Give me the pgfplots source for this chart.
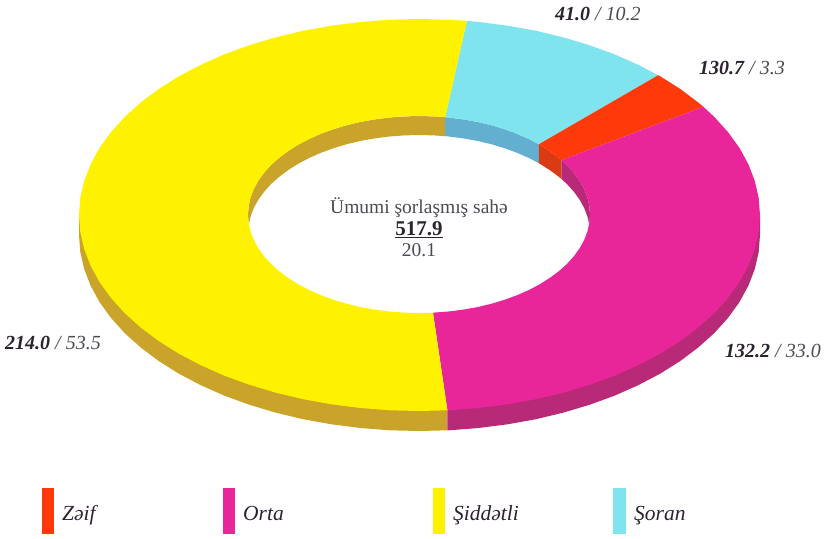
\documentclass[border=0pt]{standalone}
\usepackage{pgfplots}
\usepackage{fontspec}
\setmainfont{Liberation Serif}
\pgfplotsset{compat=1.18}
\definecolor{sYellow}{HTML}{FFF200}
\definecolor{sCyan}{HTML}{80E4EE}
\definecolor{sRed}{HTML}{FF3A0A}
\definecolor{sMag}{HTML}{E8269A}
\definecolor{wYellow}{HTML}{C9A32A}
\definecolor{wCyan}{HTML}{62AFCF}
\definecolor{wRed}{HTML}{DB3B12}
\definecolor{wMag}{HTML}{B82A78}
\definecolor{txt}{HTML}{2B2330}
\definecolor{txtg}{HTML}{4F4A52}
\newcommand{\lab}[2]{{\fontsize{20}{22}\selectfont\itshape\textbf{\textcolor{txt}{#1}}~\textcolor{txtg}{/ #2}}}
\newcommand{\leg}[1]{{\fontsize{21.5}{24}\selectfont\itshape\textcolor{txt}{#1}}}

\begin{document}
\begin{tikzpicture}
\begin{axis}[
    scale only axis,
    width=827pt, height=538pt,
    xmin=0, xmax=827,
    ymin=0, ymax=538,
    y dir=reverse,
    hide axis,
    clip=false,
]
\path (axis cs:0,0) rectangle (axis cs:827,538);

% outer side walls
\addplot[fill=wYellow, draw=none] coordinates {
(79,215)(79,235)(80.3,252.1)(84.2,269)(90.6,285.7)(99.5,302)(110.9,317.8)(124.6,333)(140.6,347.4)(158.7,361)(178.7,373.6)(200.6,385.1)(224.2,395.6)(249.2,404.7)(275.6,412.6)(303,419.2)(331.4,424.3)(360.4,428)(389.8,430.3)(419.5,431)(447.4,430.3)(447.4,410.3)
} -- cycle;
\addplot[fill=wMag, draw=none] coordinates {
(447.4,410.3)(447.4,430.3)(449.2,430.3)(478.6,428)(507.6,424.3)(536,419.2)(563.4,412.6)(589.8,404.7)(614.8,395.6)(638.4,385.1)(660.3,373.6)(680.3,361)(698.4,347.4)(714.4,333)(728.1,317.8)(739.5,302)(748.4,285.7)(754.8,269)(758.7,252.1)(760,235)(760,215)
} -- cycle;

% inner walls of the hole
\addplot[fill=wYellow, draw=none] coordinates {
(248.7,224.9)(248,214.5)(248.7,205.9)(250.6,197.4)(253.8,189)(258.3,180.8)(264,172.9)(270.9,165.2)(278.9,158)(288,151.2)(298.1,144.8)(309.1,139)(320.9,133.8)(333.5,129.2)(346.7,125.2)(360.5,121.9)(374.7,119.4)(389.3,117.5)(404.1,116.4)(419,116)(433.9,116.4)(445.2,117.2)(445.2,136.2)(433.9,135.4)(419,135)(404.1,135.4)(389.3,136.5)(374.7,138.4)(360.5,140.9)(346.7,144.2)(333.5,148.2)(320.9,152.8)(309.1,158)(298.1,163.8)(288,170.2)(278.9,177)(270.9,184.2)(264,191.9)(258.3,199.8)(253.8,208)(250.6,216.4)
} -- cycle;
\addplot[fill=wCyan, draw=none] coordinates {
(445.2,117.2)(448.7,117.5)(463.3,119.4)(477.5,121.9)(491.3,125.2)(504.5,129.2)(517.1,133.8)(528.9,139)(538.9,144.2)(538.9,163.2)(528.9,158)(517.1,152.8)(504.5,148.2)(491.3,144.2)(477.5,140.9)(463.3,138.4)(448.7,136.5)(445.2,136.2)
} -- cycle;
\addplot[fill=wRed, draw=none] coordinates {
(538.9,144.2)(539.9,144.8)(550,151.2)(559.1,158)(561.6,160.1)(561.6,179.1)(559.1,177)(550,170.2)(539.9,163.8)(538.9,163.2)
} -- cycle;
\addplot[fill=wMag, draw=none] coordinates {
(561.6,160.1)(567.1,165.2)(574,172.9)(579.7,180.8)(584.2,189)(587.4,197.4)(589.3,205.9)(590,214.5)(589.3,224.9)(587.4,216.4)(584.2,208)(579.7,199.8)(574,191.9)(567.1,184.2)(561.6,179.1)
} -- cycle;

% top faces: Soran 10.2, Zeif 3.3, Orta 33.0, Siddetli 53.5
\addplot[fill=sCyan, draw=none] coordinates {
(466.9,20.9)(478.6,22)(507.6,25.7)(536,30.8)(563.4,37.4)(589.8,45.3)(614.8,54.4)(638.4,64.9)(658.2,75.2)(538.9,144.2)(528.9,139)(517.1,133.8)(504.5,129.2)(491.3,125.2)(477.5,121.9)(463.3,119.4)(448.7,117.5)(445.2,117.2)
} -- cycle;
\addplot[fill=sRed, draw=none] coordinates {
(658.2,75.2)(660.3,76.4)(680.3,89)(698.4,102.6)(703.4,106.8)(561.6,160.1)(559.1,158)(550,151.2)(539.9,144.8)(538.9,144.2)
} -- cycle;
\addplot[fill=sMag, draw=none] coordinates {
(703.4,106.8)(714.4,117)(728.1,132.2)(739.5,148)(748.4,164.3)(754.8,181)(758.7,197.9)(760,215)(758.7,232.1)(754.8,249)(748.4,265.7)(739.5,282)(728.1,297.8)(714.4,313)(698.4,327.4)(680.3,341)(660.3,353.6)(638.4,365.1)(614.8,375.6)(589.8,384.7)(563.4,392.6)(536,399.2)(507.6,404.3)(478.6,408)(449.2,410.3)(447.4,410.3)(433,312.7)(433.9,312.6)(448.7,311.5)(463.3,309.6)(477.5,307.1)(491.3,303.8)(504.5,299.8)(517.1,295.2)(528.9,290)(539.9,284.2)(550,277.8)(559.1,271)(567.1,263.8)(574,256.1)(579.7,248.2)(584.2,240)(587.4,231.6)(589.3,223.1)(590,214.5)(589.3,205.9)(587.4,197.4)(584.2,189)(579.7,180.8)(574,172.9)(567.1,165.2)(561.6,160.1)
} -- cycle;
\addplot[fill=sYellow, draw=none] coordinates {
(466.9,20.9)(449.2,19.7)(419.5,19)(389.8,19.7)(360.4,22)(331.4,25.7)(303,30.8)(275.6,37.4)(249.2,45.3)(224.2,54.4)(200.6,64.9)(178.7,76.4)(158.7,89)(140.6,102.6)(124.6,117)(110.9,132.2)(99.5,148)(90.6,164.3)(84.2,181)(80.3,197.9)(79,215)(80.3,232.1)(84.2,249)(90.6,265.7)(99.5,282)(110.9,297.8)(124.6,313)(140.6,327.4)(158.7,341)(178.7,353.6)(200.6,365.1)(224.2,375.6)(249.2,384.7)(275.6,392.6)(303,399.2)(331.4,404.3)(360.4,408)(389.8,410.3)(419.5,411)(447.4,410.3)(433,312.7)(419,313)(404.1,312.6)(389.3,311.5)(374.7,309.6)(360.5,307.1)(346.7,303.8)(333.5,299.8)(320.9,295.2)(309.1,290)(298.1,284.2)(288,277.8)(278.9,271)(270.9,263.8)(264,256.1)(258.3,248.2)(253.8,240)(250.6,231.6)(248.7,223.1)(248,214.5)(248.7,205.9)(250.6,197.4)(253.8,189)(258.3,180.8)(264,172.9)(270.9,165.2)(278.9,158)(288,151.2)(298.1,144.8)(309.1,139)(320.9,133.8)(333.5,129.2)(346.7,125.2)(360.5,121.9)(374.7,119.4)(389.3,117.5)(404.1,116.4)(419,116)(433.9,116.4)(445.2,117.2)
} -- cycle;

% legend swatches
\addplot[fill=sRed, draw=none] coordinates {(41.5,488)(54,488)(54,534)(41.5,534)} -- cycle;
\addplot[fill=sMag, draw=none] coordinates {(222.7,488)(235,488)(235,534)(222.7,534)} -- cycle;
\addplot[fill=sYellow, draw=none] coordinates {(432.7,488)(445,488)(445,534)(432.7,534)} -- cycle;
\addplot[fill=sCyan, draw=none] coordinates {(613.3,488)(626,488)(626,534)(613.3,534)} -- cycle;

\node[anchor=base west, inner sep=0pt] at (axis cs:62,520) {\leg{Zəif}};
\node[anchor=base west, inner sep=0pt] at (axis cs:243,520) {\leg{Orta}};
\node[anchor=base west, inner sep=0pt] at (axis cs:453,520) {\leg{Şiddətli}};
\node[anchor=base west, inner sep=0pt] at (axis cs:634,520) {\leg{Şoran}};

% value labels
\node[anchor=base west, inner sep=0pt] at (axis cs:555,20) {\lab{41.0}{10.2}};
\node[anchor=base west, inner sep=0pt] at (axis cs:699,74) {\lab{130.7}{3.3}};
\node[anchor=base west, inner sep=0pt] at (axis cs:5,349) {\lab{214.0}{53.5}};
\node[anchor=base west, inner sep=0pt] at (axis cs:725,357) {\lab{132.2}{33.0}};

% centre text
\node[anchor=base, inner sep=0pt, text=txtg] at (axis cs:419,213) {\fontsize{19.5}{22}\selectfont Ümumi şorlaşmış sahə};
\node[anchor=base, inner sep=0pt, text=txt] at (axis cs:419,235) {\fontsize{21}{22}\selectfont\underline{\textbf{517.9}}};
\node[anchor=base, inner sep=0pt, text=txtg] at (axis cs:419,256) {\fontsize{19.5}{22}\selectfont 20.1};
\end{axis}
\end{tikzpicture}
\end{document}
